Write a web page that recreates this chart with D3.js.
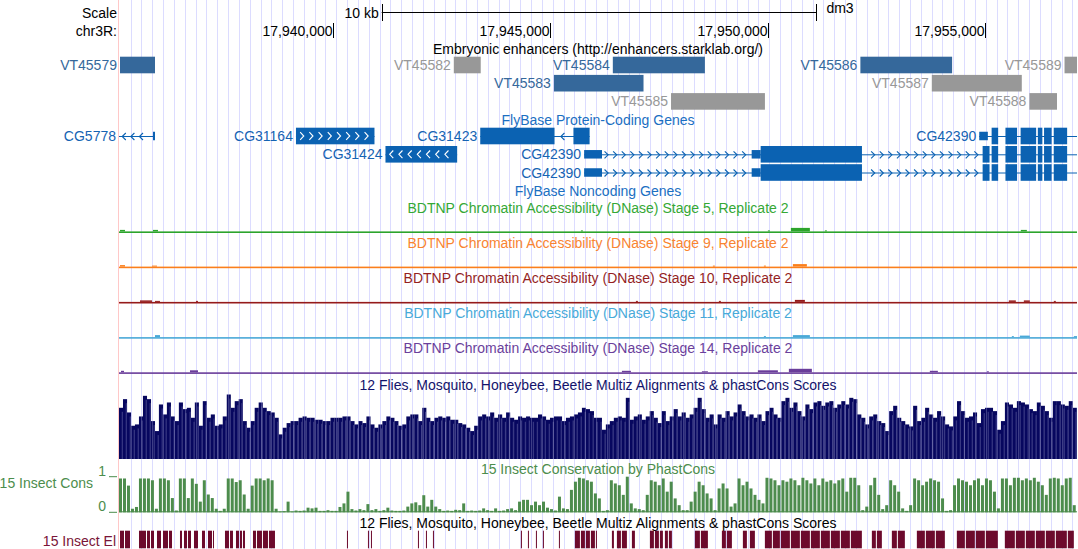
<!DOCTYPE html>
<html><head><meta charset="utf-8">
<script src="https://cdn.jsdelivr.net/npm/d3@7"></script>
<style>
html,body{margin:0;padding:0;background:#fff;}
svg{display:block;font-family:"Liberation Sans",Arial,Helvetica,sans-serif;}
</style></head><body>
<svg id="chart" width="1078" height="549"></svg>
<script>
// ---------------- DATA ----------------
const chromName = "chr3R:";
const assembly = "dm3";
const viewStart = 17935077, viewEnd = 17957115;
const axisTicks = [17940000, 17945000, 17950000, 17955000];
const scaleBarStart = 17941120, scaleBarLength = 10000, scaleBarLabel = "10 kb";

const enhancerTitle = "Embryonic enhancers (http://enhancers.starklab.org/)";
const enhancerNames  = ["VT45579","VT45582","VT45584","VT45583","VT45585","VT45586","VT45587","VT45588","VT45589"];
const enhancerStarts = [17935100,17942779,17946437,17945082,17947776,17952132,17953775,17956020,17956828];
const enhancerEnds   = [17935905,17943398,17948555,17947143,17949936,17954242,17955845,17956655,17958000];
const enhancerRows   = [0,0,0,1,2,0,1,2,0];
const enhancerActive = [1,0,1,1,0,1,0,0,0];

const geneTitle = "FlyBase Protein-Coding Genes";
const noncodingTitle = "FlyBase Noncoding Genes";
const geneNames   = ["CG5778","CG31164","CG31424","CG31423","CG42390","CG42390","CG42390"];
const geneRows    = [0,0,1,0,0,1,2];
const geneStrands = ["-","+","-","-","+","+","+"];
const geneStarts  = [17934000,17939148,17941207,17943387,17954866,17945777,17945777];
const geneEnds    = [17935905,17940954,17942856,17945903,17958500,17958500,17958500];
const geneExons = [
  [[17935859,17935905,0]],
  [[17939148,17940954,1]],
  [[17941207,17942856,1]],
  [[17943387,17945096,1],[17945531,17945903,1]],
  [[17954866,17955064,0],[17955151,17955301,1],[17955469,17955736,1],[17955818,17956175,1],[17956214,17956318,1],[17956357,17956531,1],[17956580,17956888,1]],
  [[17945777,17946188,0],[17949631,17949838,0],[17949838,17952168,1],[17954944,17955103,1],[17955151,17955301,1],[17955469,17955736,1],[17955818,17956175,1],[17956214,17956318,1],[17956357,17956531,1],[17956580,17956888,1]],
  [[17945777,17946188,0],[17949631,17949838,0],[17949838,17952168,1],[17954944,17955103,1],[17955151,17955301,1],[17955469,17955736,1],[17955818,17956175,1],[17956214,17956318,1],[17956357,17956531,1],[17956580,17956888,1]]
];

const dnaseTitles = [
  "BDTNP Chromatin Accessibility (DNase) Stage 5, Replicate 2",
  "BDTNP Chromatin Accessibility (DNase) Stage 9, Replicate 2",
  "BDTNP Chromatin Accessibility (DNase) Stage 10, Replicate 2",
  "BDTNP Chromatin Accessibility (DNase) Stage 11, Replicate 2",
  "BDTNP Chromatin Accessibility (DNase) Stage 14, Replicate 2"
];
// [start, end, signal]
const dnaseStage5  = [[17935100,17935215,1.5],[17935859,17935974,1.5],[17945703,17945749,1],[17950004,17950050,1],[17950533,17950970,3.5],[17951315,17951361,1],[17955823,17955961,1.5]];
const dnaseStage9  = [[17935100,17935215,1.5],[17935836,17935951,1],[17948739,17948785,1],[17949912,17949958,1],[17950579,17950901,2.5]];
const dnaseStage10 = [[17935560,17935836,1.5],[17935905,17936020,1],[17936848,17936894,1],[17946968,17947014,1],[17948877,17948923,1],[17950625,17950855,2],[17955547,17955708,1.5],[17955892,17956030,1.5],[17956582,17956628,1]];
const dnaseStage11 = [[17935905,17936020,2],[17949912,17949958,1],[17950579,17950970,2],[17955616,17955662,1],[17955800,17956030,1.5],[17957042,17957115,1]];
const dnaseStage14 = [[17935123,17935192,1.5],[17936710,17936894,2],[17946646,17946853,1.5],[17948486,17948624,1],[17949774,17950234,2],[17950487,17951016,3.5],[17953730,17953914,1.5],[17955041,17955087,1]];

const multizTitle = "12 Flies, Mosquito, Honeybee, Beetle Multiz Alignments & phastCons Scores";
const consTitle = "15 Insect Conservation by PhastCons";
const consLabel = "15 Insect Cons";
const elementsLabel = "15 Insect El";
const signalBinBp = 91.8;
const multizScores = [
 77,90,70,50,52,64,95,90,57,42, 82,67,85,64,57,85,75,77,62,85, 50,87,62,67,50,52,64,97,77,87, 90,57,47,57,77,85,77,72,70,62, 37,47,54,57,57,62,64,62,62,59, 59,57,57,62,62,62,64,64,57,52,
 57,54,64,52,47,52,57,64,62,57, 50,52,64,67,67,57,77,62,57,62, 64,62,64,59,59,54,52,47,42,50, 64,67,64,70,62,67,62,70,62,59, 64,62,64,62,62,67,64,59,62,64, 64,57,62,64,67,70,77,75,72,62,
 62,44,52,57,62,64,62,92,59,64, 67,59,64,72,62,54,72,57,64,75, 64,70,62,67,77,92,75,62,67,52, 67,62,72,64,70,82,72,64,67,62, 67,57,72,77,67,62,87,92,77,85, 72,64,82,75,85,87,80,85,87,77,
 82,87,82,92,90,67,62,52,64,67, 57,54,42,72,80,62,57,52,49,80, 57,62,77,67,62,72,64,52,49,64, 87,72,62,64,70,54,75,77,77,72, 44,57,85,82,77,87,85,82,75,72, 85,80,72,62,87,87,82,80,87,77
];
const phastConsScores = [
 95,95,75,10,15,95,95,95,90,10, 95,95,90,40,5,95,95,40,95,80, 30,90,50,40,10,4,10,95,95,85, 90,50,10,75,95,95,90,95,90,10, 2,3,30,2,5,4,5,13,11,13, 4,4,6,4,4,15,25,58,9,5,
 9,6,23,6,9,4,6,13,5,4, 4,5,16,25,28,20,48,16,35,16, 9,4,5,4,7,6,25,4,5,4, 5,11,6,4,11,4,5,9,11,6, 30,35,35,20,30,20,30,13,9,5, 44,11,9,63,86,97,95,90,86,53,
 39,4,6,90,81,76,49,100,25,11, 9,6,49,90,86,76,95,58,86,39, 20,6,6,30,58,86,76,53,39,6, 67,81,67,16,25,95,76,86,67,49, 35,25,97,95,90,76,90,86,95,90, 76,97,90,81,95,76,95,86,90,81,
 90,95,58,97,97,76,6,16,76,97, 49,9,20,90,76,58,11,4,20,95, 90,76,86,95,90,86,39,4,6,76, 95,90,86,76,90,95,76,95,90,58, 11,95,95,76,97,97,90,95,90,97, 86,76,49,95,97,95,76,95,97,20
];
const consElements = [
 [17935100,17935192],[17935215,17935330],
 [17935537,17935698],[17935721,17935790],[17935813,17935882],
 [17935951,17936043],[17936089,17936204],[17936227,17936296],
 [17936480,17936526],[17936572,17936641],[17936664,17936733],
 [17936802,17936894],[17936986,17937055],
 [17937124,17937216],[17937239,17937262],
 [17937515,17937607],[17937630,17937699],
 [17937768,17937837],[17937860,17937906],[17937929,17937975],
 [17938159,17938228],[17938251,17938366],[17938389,17938504],[17938527,17938665],
 [17940321,17940344],
 [17940804,17940827],[17940873,17940896],
 [17941954,17941977],[17942138,17942161],[17942299,17942322],
 [17944323,17944346],[17944484,17944507],[17944668,17944691],[17944829,17944852],
 [17945197,17945220],
 [17945565,17945680],[17945703,17945795],[17945818,17945910],[17945933,17946025],
 [17946048,17946071],
 [17946416,17946462],[17946531,17946623],[17946646,17946761],
 [17946876,17946945],
 [17947290,17947382],[17947405,17947497],[17947520,17947589],[17947635,17947704],[17947727,17947796],
 [17948325,17948440],[17948463,17948624],
 [17948946,17949038],[17949061,17949176],
 [17949429,17949521],[17949590,17949705],
 [17949935,17950096],[17950119,17950280],[17950303,17950510],[17950533,17950740],[17950763,17950970],
 [17950993,17951200],[17951223,17951430],[17951453,17951660],[17951683,17951890],[17951913,17952166],
 [17952396,17952488],[17952511,17952626],
 [17952856,17952971],[17952994,17953155],
 [17953431,17953615],[17953638,17953845],[17953868,17954075],
 [17954351,17954535],[17954558,17954765],[17954788,17954995],[17955018,17955294],
 [17955455,17955685],[17955708,17955915],[17955938,17956145],[17956168,17956375],[17956398,17956605],[17956628,17956881],
 [17956904,17957042]
];

// ---------------- DRAWING ----------------
const W = 1078, H = 549, left = 119, right = 1077;
const svg = d3.select("#chart");
const x = d3.scaleLinear().domain([viewStart, viewEnd]).range([left, right]);
const clampX = v => Math.max(left, Math.min(right, x(v)));
const FS = 14;
function label(t, px, py, color, anchor) {
  return svg.append("text").attr("x", px).attr("y", py).attr("fill", color || "#000")
    .attr("font-size", FS).attr("text-anchor", anchor || "middle")
    .attr("dominant-baseline", "central").text(t);
}
svg.append("rect").attr("width", W).attr("height", H).attr("fill", "#fff");

// guidelines
const guideLines = d3.range(viewStart + 268, viewEnd, 249);
const gGuide = svg.append("g");
gGuide.selectAll("line").data(guideLines).join("line")
  .attr("x1", d => Math.round(x(d)) + 0.5).attr("x2", d => Math.round(x(d)) + 0.5)
  .attr("y1", 0).attr("y2", H).attr("stroke", "#dcdcff").attr("stroke-width", 1);
svg.append("rect").attr("x", 118).attr("y", 0).attr("width", 1).attr("height", H).attr("fill", "#ffc8c8");

// scale bar + position axis
label("Scale", 117, 12.5, "#000", "end");
const sb0 = x(scaleBarStart), sb1 = x(scaleBarStart + scaleBarLength);
svg.append("line").attr("x1", sb0).attr("x2", sb1).attr("y1", 12.5).attr("y2", 12.5).attr("stroke", "#000");
[sb0, sb1].forEach(v => svg.append("line").attr("x1", Math.round(v)+0.5).attr("x2", Math.round(v)+0.5).attr("y1", 4).attr("y2", 21).attr("stroke", "#000"));
label(scaleBarLabel, sb0 - 3, 12.5, "#000", "end");
label(assembly, sb1 + 10, 8, "#000", "start");
label(chromName, 117, 31, "#000", "end");
const axisG = svg.append("g");
axisTicks.forEach(t => {
  const px = Math.round(x(t)) + 0.5;
  axisG.append("line").attr("x1", px).attr("x2", px).attr("y1", 23).attr("y2", 38).attr("stroke", "#000");
  label(d3.format(",")(t), px - 1, 31, "#000", "end");
});

// enhancers
label(enhancerTitle, 598, 49, "#000");
const enhRowY = [65, 83.2, 101.4], enhH = 16.6;
enhancerNames.forEach((n, i) => {
  const c = enhancerActive[i] ? "#35689b" : "#989898";
  const x0 = clampX(enhancerStarts[i]), x1 = clampX(enhancerEnds[i]);
  const cy = enhRowY[enhancerRows[i]];
  svg.append("rect").attr("x", x0).attr("y", cy - enhH/2).attr("width", x1 - x0).attr("height", enhH).attr("fill", c);
  label(n, x0 - 3, cy, c, "end");
});

// genes
const geneColor = "#0b62b2";
label(geneTitle, 598, 120, "#1b6fc2");
label(noncodingTitle, 598, 190.5, "#1b6fc2");
const geneRowY = [136, 154.3, 172.5];
function chev(g, cx, cy, dir, color, hw, hh) {
  const d = dir > 0 ? `M${cx-hw},${cy-hh}L${cx+hw},${cy}L${cx-hw},${cy+hh}`
                    : `M${cx+hw},${cy-hh}L${cx-hw},${cy}L${cx+hw},${cy+hh}`;
  g.append("path").attr("d", d).attr("fill", "none").attr("stroke", color).attr("stroke-width", 1.1);
}
geneNames.forEach((n, i) => {
  const g = svg.append("g");
  const cy = geneRowY[geneRows[i]];
  const dir = geneStrands[i] === "+" ? 1 : -1;
  const x0 = clampX(geneStarts[i]), x1 = clampX(geneEnds[i]);
  const ex = geneExons[i].map(e => [clampX(e[0]), clampX(e[1]), e[2]]);
  g.append("line").attr("x1", x0).attr("x2", x1).attr("y1", cy + 0.5).attr("y2", cy + 0.5).attr("stroke", geneColor);
  for (let p = x0 + 5; p < x1 - 3; p += 8.6) {
    if (ex.some(e => p > e[0] - 4 && p < e[1] + 4)) continue;
    chev(g, p, cy + 0.5, dir, geneColor, 1.8, 3.5);
  }
  ex.forEach(e => {
    const h = e[2] ? 16.6 : 8.5;
    g.append("rect").attr("x", e[0]).attr("y", cy - h/2).attr("width", Math.max(1.5, e[1] - e[0])).attr("height", h).attr("fill", geneColor);
  });
  if (ex.length === 1 && ex[0][2]) {
    for (let p = ex[0][0] + 6; p < ex[0][1] - 4; p += 9.2) chev(g, p, cy, dir, "#fff", 1.8, 3.8);
  }
  label(n, x0 - 3, cy, "#1563b3", "end");
});

// DNase tracks
const dnaseSets = [dnaseStage5, dnaseStage9, dnaseStage10, dnaseStage11, dnaseStage14];
const dnaseColors = ["#2ca42c", "#fb7f1c", "#951b1b", "#4aa9d8", "#6a3d9a"];
const dnaseTitleColors = ["#35a835", "#f98431", "#951f1f", "#48aad9", "#6b3f9b"];
const dnaseTitleY = [207.5, 242.7, 278, 313.2, 348.4];
const dnaseBaseY = [233, 268.2, 303.5, 338.7, 373.9];
dnaseSets.forEach((peaks, k) => {
  label(dnaseTitles[k], 598, dnaseTitleY[k], dnaseTitleColors[k]);
  const base = dnaseBaseY[k];
  const hy = d3.scaleLinear().domain([0, 10]).range([0, 10]);
  svg.append("rect").attr("x", left).attr("y", base - 1.6).attr("width", right - left).attr("height", 1.6).attr("fill", dnaseColors[k]);
  peaks.forEach(p => {
    const x0 = x(p[0]), x1 = x(p[1]);
    svg.append("rect").attr("x", x0).attr("y", base - 1.6 - hy(p[2])).attr("width", Math.max(1, x1 - x0)).attr("height", hy(p[2])).attr("fill", dnaseColors[k]);
  });
});

// Multiz track: one bar per bin, with a lighter 1px streak
label(multizTitle, 598, 384.5, "#13136b");
const mzBase = 459, mzH = 66.5;
const mzY = d3.scaleLinear().domain([0, 100]).range([0, mzH]);
const binX0 = i => x(viewStart + i * signalBinBp);
const binW = i => x(viewStart + (i + 1) * signalBinBp) - x(viewStart + i * signalBinBp);
const mzG = svg.append("g");
mzG.selectAll("rect.bar").data(multizScores).join("rect").attr("class", "bar")
  .attr("x", (d, i) => binX0(i)).attr("width", (d, i) => binW(i) + 0.1)
  .attr("y", d => mzBase - mzY(d)).attr("height", d => mzY(d)).attr("fill", "#07075f");
mzG.selectAll("rect.streak").data(multizScores).join("rect").attr("class", "streak")
  .attr("x", (d, i) => binX0(i) + binW(i) - 1.2).attr("width", 0.9)
  .attr("y", d => mzBase - mzY(d) + 4).attr("height", d => Math.max(0, mzY(d) - 4)).attr("fill", "#4a4a90");

// phastCons track
label(consTitle, 598, 469, "#4c8d4c");
const pcBase = 512.3, pcH = 35.6;
const pcY = d3.scaleLinear().domain([0, 100]).range([0, pcH]);
svg.append("g").selectAll("rect").data(phastConsScores).join("rect")
  .attr("x", (d, i) => binX0(i))
  .attr("width", (d, i) => Math.max(1, binW(i) - 1))
  .attr("y", d => pcBase - pcY(d)).attr("height", d => pcY(d)).attr("fill", "#4d8c4d");
svg.append("rect").attr("x", left).attr("y", pcBase - 1).attr("width", right - left).attr("height", 1).attr("fill", "#4a8a4a");
label(consLabel, 93, 483, "#4c8d4c", "end");
[[1, pcBase - pcH], [0, pcBase]].forEach(([v, yy]) => {
  label(String(v), 106, yy - 6, "#4c8d4c", "end");
  svg.append("line").attr("x1", 109).attr("x2", 117).attr("y1", yy).attr("y2", yy).attr("stroke", "#4c8d4c");
});

// Conserved elements track
label(multizTitle, 598, 523, "#000");
svg.append("g").selectAll("rect").data(consElements).join("rect")
  .attr("x", d => x(d[0])).attr("width", d => Math.max(1, x(d[1]) - x(d[0])))
  .attr("y", 530.7).attr("height", 17.6).attr("fill", "#6c0a2c");
label(elementsLabel, 116, 540.5, "#7a1538", "end");

// guideline overlay on the dense conservation track
const ov = svg.append("g").attr("opacity", 0.25);
ov.selectAll("line").data(guideLines).join("line")
  .attr("x1", d => Math.round(x(d)) + 0.5).attr("x2", d => Math.round(x(d)) + 0.5)
  .attr("y1", 390).attr("y2", 460).attr("stroke", "#dcdcff");
</script>
</body></html>
